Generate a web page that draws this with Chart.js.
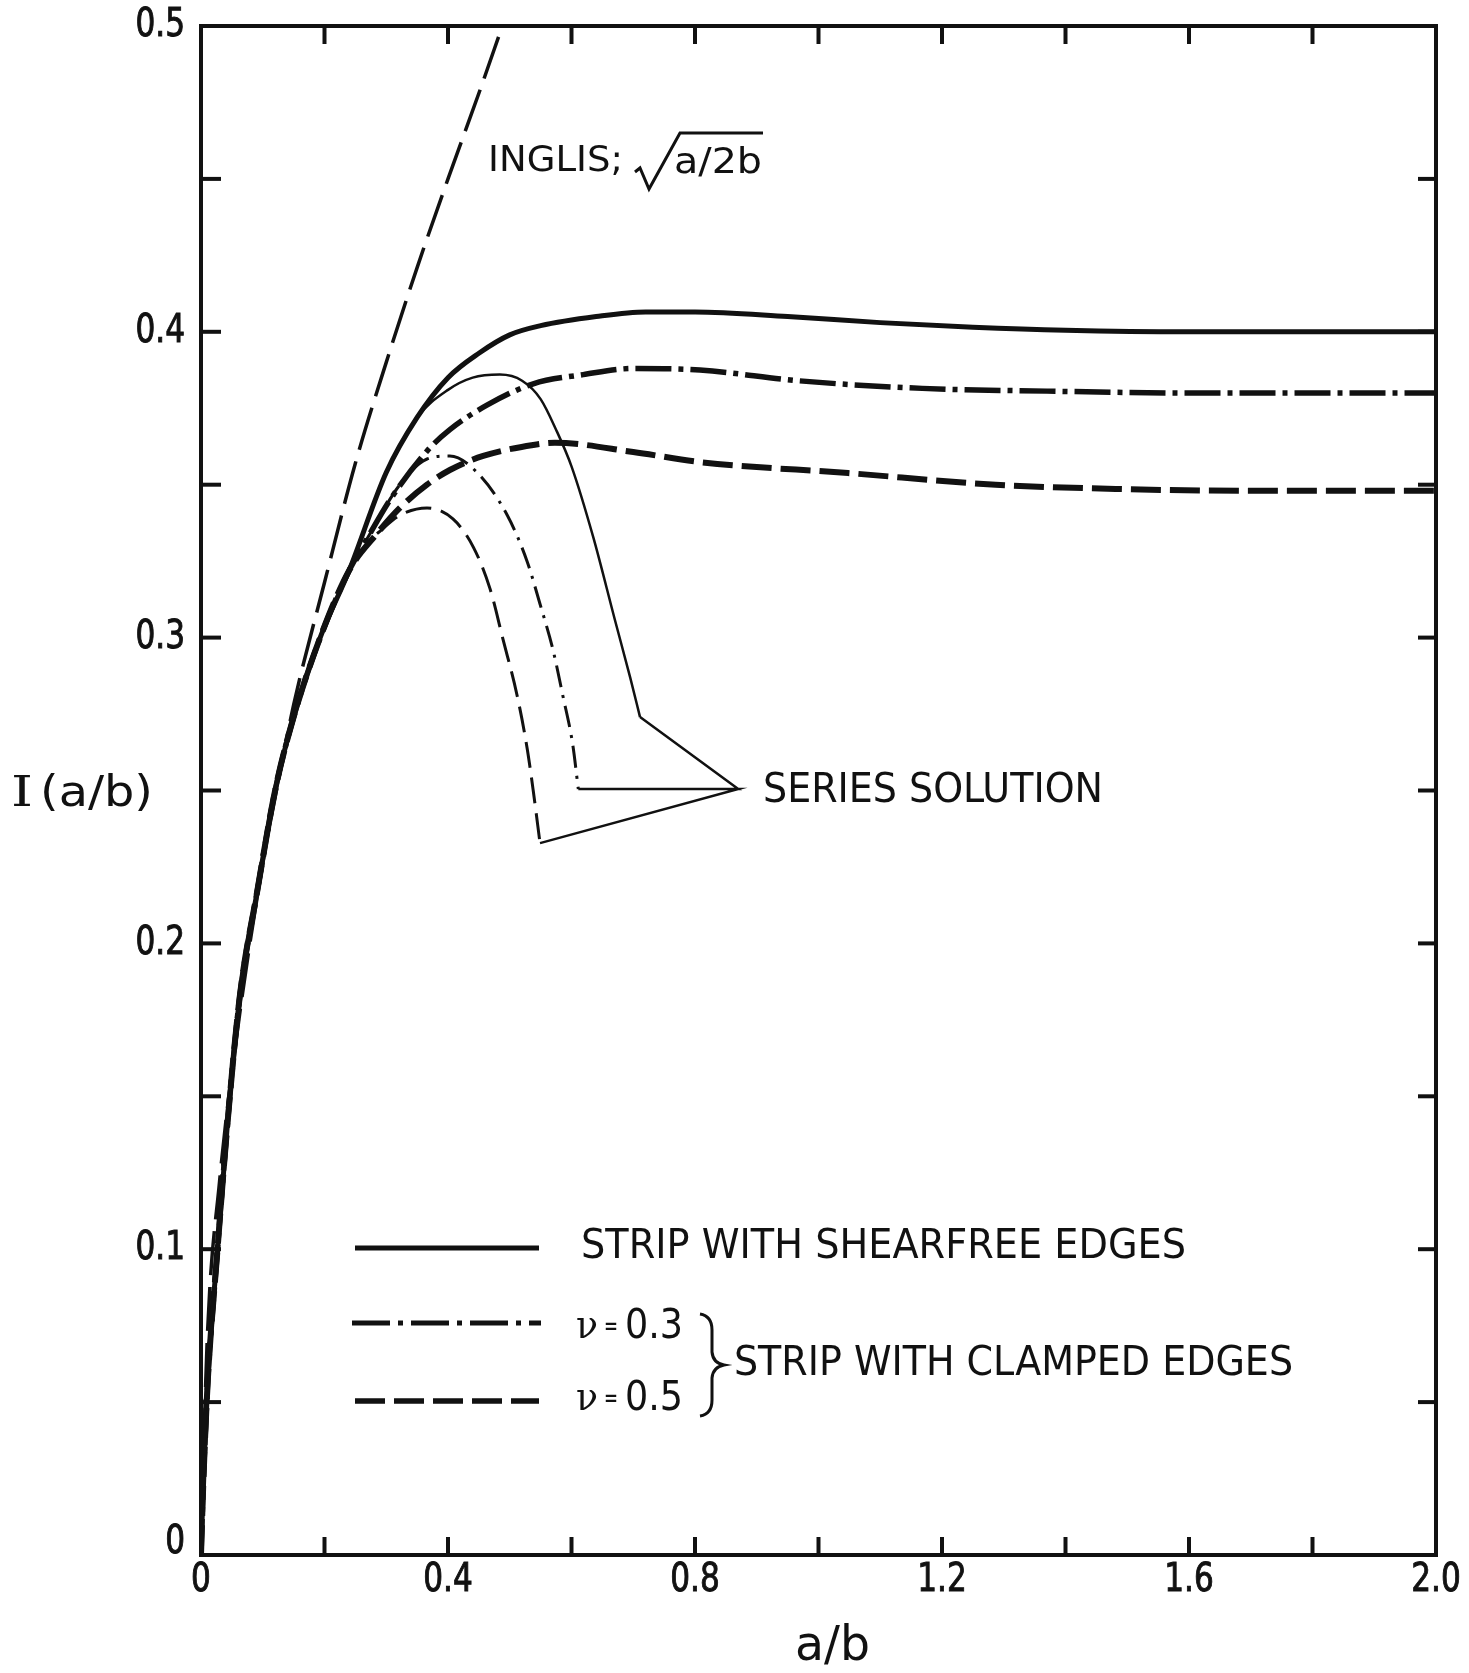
<!DOCTYPE html>
<html>
<head>
<meta charset="utf-8">
<script src="https://cdn.jsdelivr.net/npm/chart.js@4.4.1/dist/chart.umd.min.js"></script>
<style>
  body { margin: 0; background: #fff; }
  canvas { display: block; }
</style>
</head>
<body>
<canvas id="chart" width="1469" height="1673"></canvas>
<script>
// Inglis solution, sqrt(a/2b)
const inglisX = [0, 0.01, 0.03, 0.06, 0.10, 0.13, 0.15, 0.20, 0.25, 0.30, 0.35, 0.40, 0.45, 0.488];
const inglisY = [0, 0.07, 0.122, 0.173, 0.226, 0.258, 0.278, 0.318, 0.357, 0.390, 0.421, 0.450, 0.478, 0.5];

// Strip with shear-free edges (thick solid)
const shearFreeX = [0, 0.004, 0.011, 0.026, 0.042, 0.063, 0.091, 0.12, 0.15, 0.193, 0.24, 0.30, 0.35, 0.40, 0.45, 0.50, 0.55, 0.64, 0.72, 0.80, 0.95, 1.10, 1.25, 1.40, 1.60, 1.80, 2.00];
const shearFreeY = [0, 0.025, 0.057, 0.098, 0.139, 0.183, 0.217, 0.25, 0.274, 0.300, 0.322, 0.354, 0.372, 0.385, 0.393, 0.399, 0.402, 0.405, 0.4065, 0.4065, 0.405, 0.403, 0.4015, 0.4005, 0.400, 0.400, 0.400];

// Strip with clamped edges, nu = 0.3 (thick dash-dot)
const clamped03X = [0, 0.004, 0.011, 0.026, 0.042, 0.063, 0.091, 0.12, 0.15, 0.193, 0.24, 0.268, 0.306, 0.366, 0.403, 0.463, 0.538, 0.619, 0.70, 0.808, 0.967, 1.168, 1.37, 1.6, 1.8, 2.0];
const clamped03Y = [0, 0.025, 0.057, 0.098, 0.139, 0.183, 0.217, 0.25, 0.274, 0.300, 0.322, 0.332, 0.345, 0.361, 0.368, 0.376, 0.383, 0.386, 0.388, 0.3875, 0.384, 0.3815, 0.3806, 0.380, 0.380, 0.380];

// Strip with clamped edges, nu = 0.5 (thick dashed)
const clamped05X = [0, 0.004, 0.011, 0.026, 0.042, 0.063, 0.091, 0.12, 0.15, 0.193, 0.24, 0.285, 0.322, 0.366, 0.403, 0.457, 0.538, 0.573, 0.70, 0.808, 1.048, 1.287, 1.487, 1.7, 1.9, 2.0];
const clamped05Y = [0, 0.025, 0.057, 0.098, 0.139, 0.183, 0.217, 0.25, 0.274, 0.300, 0.322, 0.334, 0.3424, 0.350, 0.3548, 0.3594, 0.363, 0.3637, 0.3607, 0.3574, 0.3538, 0.350, 0.3486, 0.348, 0.348, 0.348];

// Series solutions (thin lines)
const seriesShearX = [0.30, 0.35, 0.40, 0.44, 0.484, 0.52, 0.55, 0.575, 0.60, 0.635, 0.67, 0.695, 0.711];
const seriesShearY = [0.354, 0.372, 0.381, 0.385, 0.386, 0.384, 0.378, 0.368, 0.356, 0.333, 0.306, 0.287, 0.274];
const series03X = [0.268, 0.322, 0.366, 0.403, 0.447, 0.496, 0.528, 0.549, 0.570, 0.586, 0.602, 0.611];
const series03Y = [0.332, 0.350, 0.3584, 0.3594, 0.354, 0.340, 0.325, 0.311, 0.296, 0.281, 0.265, 0.2505];
const series05X = [0.285, 0.322, 0.366, 0.408, 0.441, 0.468, 0.489, 0.512, 0.528, 0.538, 0.549];
const series05Y = [0.334, 0.340, 0.3424, 0.3388, 0.3296, 0.316, 0.2995, 0.281, 0.264, 0.250, 0.2328];

// leader lines to the "SERIES SOLUTION" label
const leaderX = [0.711, 0.870, 0.611, 0.870, 0.549];
const leaderY = [0.274, 0.2505, 0.2505, 0.2505, 0.2328];

// tick labels
const xTickValues = [0, 0.4, 0.8, 1.2, 1.6, 2.0];
const xTickLabels = ['0', '0.4', '0.8', '1.2', '1.6', '2.0'];
const yTickValues = [0, 0.1, 0.2, 0.3, 0.4, 0.5];
const yTickLabels = ['0', '0.1', '0.2', '0.3', '0.4', '0.5'];

const ink = '#111';
const sans = "'DejaVu Sans', sans-serif";

const pts = (xs, ys) => xs.map((v, i) => ({ x: v, y: ys[i] }));

function line(ctx, x1, y1, x2, y2) {
  ctx.beginPath(); ctx.moveTo(x1, y1); ctx.lineTo(x2, y2); ctx.stroke();
}

// draw text squeezed/stretched to a given width
function fitText(ctx, str, left, midY, width, size, font) {
  ctx.font = size + 'px ' + font;
  const w = ctx.measureText(str).width;
  ctx.save();
  ctx.translate(left, midY);
  ctx.scale(width / w, 1);
  ctx.textAlign = 'left';
  ctx.textBaseline = 'middle';
  ctx.fillText(str, 0, 0);
  ctx.restore();
}

// narrow lettering for the tick numbers
function tickText(ctx, str, x, midY, align) {
  ctx.save();
  ctx.font = '39px ' + sans;
  ctx.translate(x, midY);
  ctx.scale(0.8, 1);
  ctx.textAlign = align;
  ctx.textBaseline = 'middle';
  ctx.lineWidth = 1;
  ctx.strokeText(str, 0, 0);
  ctx.fillText(str, 0, 0);
  ctx.restore();
}

const decor = {
  id: 'decor',
  afterDatasetsDraw(chart) {
    const { ctx, chartArea: a, scales: { x, y } } = chart;
    ctx.save();
    ctx.strokeStyle = ink;
    ctx.fillStyle = ink;
    ctx.lineCap = 'butt';

    // frame
    ctx.lineWidth = 4;
    ctx.strokeRect(a.left, a.top, a.right - a.left, a.bottom - a.top);

    // inward ticks, all four sides
    x.ticks.forEach(t => {
      const px = x.getPixelForValue(t.value);
      line(ctx, px, a.bottom, px, a.bottom - 18);
      line(ctx, px, a.top, px, a.top + 18);
    });
    y.ticks.forEach(t => {
      const py = y.getPixelForValue(t.value);
      line(ctx, a.left, py, a.left + 20, py);
      line(ctx, a.right, py, a.right - 18, py);
    });

    // tick numbers
    xTickValues.forEach((v, i) => tickText(ctx, xTickLabels[i], x.getPixelForValue(v), a.bottom + 26, 'center'));
    yTickValues.forEach((v, i) => {
      const off = v === 0 ? -12 : 0;
      tickText(ctx, yTickLabels[i], a.left - 16, y.getPixelForValue(v) + off, 'right');
    });

    // axis titles
    fitText(ctx, 'I', 11, 795, 22, 42, "'DejaVu Serif', serif");
    fitText(ctx, '(a/b)', 40, 795, 113, 42, sans);
    fitText(ctx, 'a/b', 795, 1648, 75, 48, sans);

    // Inglis label with radical sign
    fitText(ctx, 'INGLIS;', 488, 162, 135, 36, sans);
    ctx.lineWidth = 3;
    ctx.beginPath();
    ctx.moveTo(635, 172); ctx.lineTo(640, 168); ctx.lineTo(649, 189);
    ctx.lineTo(680, 133); ctx.lineTo(763, 133);
    ctx.stroke();
    fitText(ctx, 'a/2b', 674, 164, 88, 36, sans);

    fitText(ctx, 'SERIES SOLUTION', 763, 792, 340, 40, sans);

    // legend
    ctx.lineWidth = 5;
    ctx.setLineDash([]);
    line(ctx, 355, 1248, 539, 1248);
    ctx.setLineDash([38, 8, 5, 8]);
    line(ctx, 352, 1323, 541, 1323);
    ctx.setLineDash([30, 9]);
    ctx.lineWidth = 5.5;
    line(ctx, 355, 1401, 539, 1401);
    ctx.setLineDash([]);

    fitText(ctx, 'STRIP WITH SHEARFREE EDGES', 581, 1248, 605, 40, sans);
    fitText(ctx, 'STRIP WITH CLAMPED EDGES', 734, 1365, 559, 40, sans);

    [['0.3', 1328], ['0.5', 1400]].forEach(([v, yy]) => {
      fitText(ctx, 'ν', 576, yy, 22, 40, "'DejaVu Serif', serif");
      fitText(ctx, '=', 604, yy, 14, 26, sans);
      fitText(ctx, v, 625, yy, 58, 40, sans);
    });

    // brace
    ctx.lineWidth = 3;
    ctx.beginPath();
    ctx.moveTo(700, 1314);
    ctx.quadraticCurveTo(712, 1316, 712, 1330);
    ctx.lineTo(712, 1352);
    ctx.quadraticCurveTo(713, 1363, 724, 1365);
    ctx.quadraticCurveTo(713, 1367, 712, 1378);
    ctx.lineTo(712, 1400);
    ctx.quadraticCurveTo(712, 1414, 700, 1416);
    ctx.stroke();

    ctx.restore();
  }
};

const thin = { showLine: true, pointRadius: 0, borderColor: ink, fill: false, cubicInterpolationMode: 'monotone' };

new Chart(document.getElementById('chart'), {
  type: 'scatter',
  data: {
    datasets: [
      { ...thin, label: 'Inglis', data: pts(inglisX, inglisY), borderWidth: 3.5, borderDash: [44, 12] },
      { ...thin, label: 'Shearfree', data: pts(shearFreeX, shearFreeY), borderWidth: 5 },
      { ...thin, label: 'Clamped 0.3', data: pts(clamped03X, clamped03Y), borderWidth: 5.5, borderDash: [36, 7, 5, 7] },
      { ...thin, label: 'Clamped 0.5', data: pts(clamped05X, clamped05Y), borderWidth: 6, borderDash: [30, 9] },
      { ...thin, label: 'Series shearfree', data: pts(seriesShearX, seriesShearY), borderWidth: 2.5 },
      { ...thin, label: 'Series 0.3', data: pts(series03X, series03Y), borderWidth: 3, borderDash: [22, 8, 3, 8] },
      { ...thin, label: 'Series 0.5', data: pts(series05X, series05Y), borderWidth: 3, borderDash: [26, 10] },
      { ...thin, label: 'Leaders', data: pts(leaderX, leaderY), borderWidth: 2.5, cubicInterpolationMode: 'default', tension: 0 }
    ]
  },
  options: {
    responsive: false,
    animation: false,
    layout: { padding: { top: 26, right: 33, left: 0, bottom: 0 } },
    plugins: { legend: { display: false }, tooltip: { enabled: false } },
    scales: {
      x: {
        type: 'linear', min: 0, max: 2,
        grid: { display: false, drawTicks: false },
        border: { display: false },
        ticks: { stepSize: 0.2, autoSkip: false, display: false },
        afterFit: s => { s.height = 118; }
      },
      y: {
        type: 'linear', min: 0, max: 0.5,
        grid: { display: false, drawTicks: false },
        border: { display: false },
        ticks: { stepSize: 0.05, autoSkip: false, display: false },
        afterFit: s => { s.width = 201; }
      }
    }
  },
  plugins: [decor]
});
</script>
</body>
</html>
